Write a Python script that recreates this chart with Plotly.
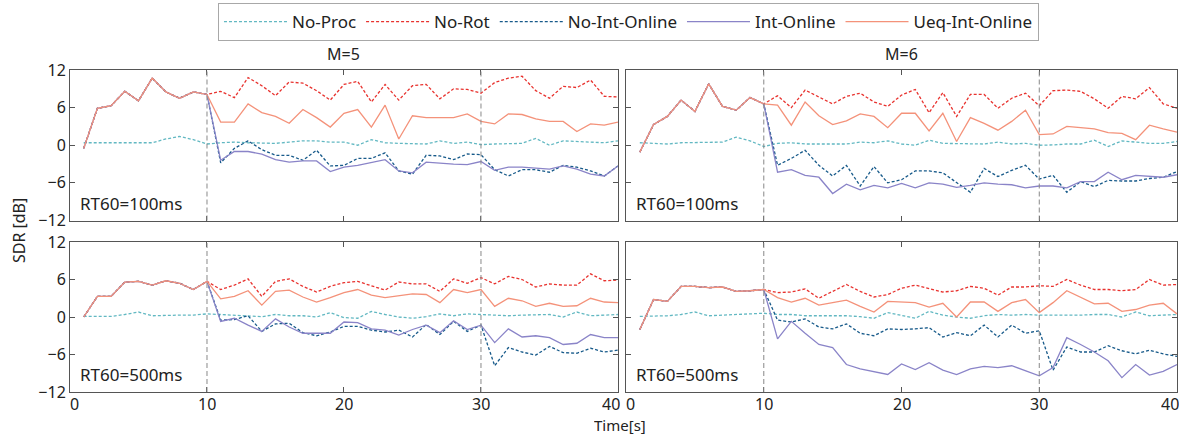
import plotly.graph_objects as go

t = list(range(1, 41))
series_names = ["No-Proc", "No-Rot", "No-Int-Online", "Int-Online", "Ueq-Int-Online"]
panel_titles = ["M=5", "M=6"]
rt_labels = ["RT60=100ms", "RT60=500ms"]
x_ticks = [0, 10, 20, 30, 40]
y_ticks = [-12, -6, 0, 6, 12]
switch_times = [10, 30]

# ---- M=5, RT60=100ms ----
m5_100_head = [-0.5, 5.9, 6.3, 8.6, 7.1, 10.7, 8.5, 7.5, 8.5, 8.1]
m5_100_noproc = [0.4, 0.4, 0.3, 0.4, 0.4, 0.4, 1.0, 1.4, 0.9, 0.2,
                 0.4, 0.5, 0.4, 0.4, 0.3, 0.5, 0.7, 0.7, 0.5, 0.5,
                 0.0, 0.9, 0.4, 0.3, 0.2, 0.2, 0.7, 0.3, 0.5, 0.1,
                 0.2, 0.3, 0.3, 1.1, 0.0, 0.7, 0.6, 0.4, 0.4, 0.7]
m5_100_norot = [8.6, 7.6, 10.8, 9.5, 7.9, 10.1, 9.9, 8.7, 7.2, 9.7,
                10.2, 6.9, 9.7, 7.2, 9.5, 9.7, 7.4, 9.0, 8.9, 8.3,
                10.0, 10.7, 11.0, 8.7, 7.5, 9.4, 9.2, 10.4, 7.8, 7.7]
m5_100_noint = [-2.8, -0.5, 0.7, -0.7, -1.6, -1.6, -2.4, -0.8, -3.3, -3.2,
                -2.1, -2.1, -1.2, -4.1, -4.6, -1.6, -1.7, -2.3, -1.4, -1.5,
                -3.9, -4.9, -3.9, -3.9, -4.3, -3.2, -3.5, -4.1, -4.9, -3.3]
m5_100_int = [-2.4, -1.0, -1.0, -1.4, -2.3, -2.7, -2.5, -2.5, -4.2, -3.5,
              -3.2, -2.8, -2.3, -4.1, -4.4, -2.7, -2.9, -3.0, -3.1, -2.6,
              -4.0, -3.5, -3.5, -3.7, -3.8, -3.3, -3.8, -4.6, -4.9, -3.3]
m5_100_ueq = [3.7, 3.7, 6.6, 5.2, 4.6, 3.5, 5.7, 4.4, 2.9, 5.1,
              5.7, 2.9, 6.4, 1.0, 4.7, 4.4, 4.4, 4.4, 5.0, 3.8,
              3.4, 5.0, 4.9, 4.2, 3.8, 3.8, 2.2, 3.4, 3.2, 3.7]

# ---- M=5, RT60=500ms ----
m5_500_head = [0.0, 3.3, 3.3, 5.6, 5.7, 5.1, 5.8, 5.4, 4.4, 5.7]
m5_500_noproc = [0.1, 0.05, 0.1, 0.4, 0.8, 0.2, 0.3, 0.3, 0.3, 0.5,
                 0.4, 0.3, 0.2, 0.05, 0.4, 0.2, 0.2, 0.0, 0.7, -0.1,
                 -0.2, 0.9, 0.4, 0.0, -0.2, 0.05, 0.5, 0.2, 0.5, 0.4,
                 0.3, 0.2, 0.3, 0.4, 0.4, 0.0, 0.8, 0.2, 0.3, 0.4]
m5_500_norot = [4.4, 5.1, 6.1, 3.3, 5.7, 6.1, 4.9, 4.0, 4.9, 5.5,
                5.7, 5.0, 4.3, 5.6, 5.3, 5.3, 4.1, 6.1, 5.4, 6.3,
                5.3, 6.5, 6.0, 4.8, 5.3, 5.1, 5.1, 6.9, 5.8, 5.9]
m5_500_noint = [-0.5, -0.4, 0.2, -2.3, -1.1, -1.0, -2.5, -3.0, -2.4, -1.5,
                -1.5, -2.1, -2.4, -2.1, -3.2, -1.2, -2.8, -0.7, -2.3, -1.3,
                -7.8, -4.9, -5.6, -6.1, -4.7, -5.7, -5.8, -5.0, -5.6, -5.3]
m5_500_int = [-0.7, -0.2, -1.3, -2.3, -0.3, -1.6, -2.6, -2.6, -2.6, -0.8,
              -0.9, -1.9, -2.1, -2.9, -2.0, -1.3, -2.5, -0.6, -2.0, -1.3,
              -4.1, -1.9, -3.2, -3.0, -3.3, -4.4, -4.2, -2.8, -3.3, -3.3]
m5_500_ueq = [2.9, 3.3, 4.2, 1.9, 4.1, 4.3, 3.2, 2.4, 3.1, 3.9,
              4.4, 3.5, 3.1, 3.4, 3.7, 3.6, 2.3, 4.4, 3.9, 4.4,
              1.7, 3.0, 2.6, 1.7, 2.2, 1.7, 1.8, 3.0, 2.4, 2.3]

# ---- M=6, RT60=100ms ----
m6_100_head = [-1.1, 3.3, 4.6, 7.2, 5.4, 9.8, 6.2, 5.6, 7.6, 6.6]
m6_100_noproc = [0.4, 0.3, 0.2, 0.4, 0.4, 0.4, 0.5, 1.3, 0.7, -0.2,
                 0.3, 0.4, 0.2, 0.2, 0.2, 0.2, 0.5, 0.4, 0.7, 0.2,
                 0.0, 0.8, 0.3, 0.3, 0.2, 0.2, 0.5, 0.2, 0.3, 0.0,
                 0.05, 0.2, 0.2, 0.8, -0.2, 0.7, 0.5, 0.3, 0.3, 0.6]
m6_100_norot = [7.9, 6.0, 8.8, 7.7, 6.6, 7.8, 8.3, 6.9, 6.2, 8.0,
                8.9, 5.2, 8.4, 4.6, 8.1, 8.1, 5.9, 7.5, 8.3, 6.3,
                8.7, 8.8, 8.6, 7.4, 5.9, 7.8, 7.4, 9.2, 6.6, 5.9]
m6_100_noint = [-3.2, -2.1, -0.8, -3.2, -4.9, -3.2, -6.5, -3.4, -6.0, -5.5,
                -4.1, -4.1, -4.4, -6.0, -7.5, -3.7, -5.0, -4.0, -3.2, -5.4,
                -4.8, -7.5, -5.8, -6.6, -5.6, -5.7, -5.7, -5.3, -5.1, -4.2]
m6_100_int = [-4.3, -3.9, -4.8, -5.1, -7.7, -6.2, -7.1, -6.4, -6.8, -6.1,
              -6.8, -6.0, -6.2, -6.7, -6.4, -6.0, -6.2, -6.3, -6.8, -6.5,
              -6.5, -6.8, -5.8, -5.8, -4.3, -5.5, -4.8, -5.0, -5.1, -4.7]
m6_100_ueq = [6.4, 3.2, 6.9, 4.7, 3.3, 3.9, 5.0, 4.6, 2.8, 5.1,
              5.1, 2.3, 5.1, 0.6, 4.4, 3.5, 2.4, 3.8, 5.6, 1.7,
              1.8, 3.0, 2.8, 2.6, 2.0, 1.9, 0.9, 3.2, 2.6, 2.1]

# ---- M=6, RT60=500ms ----
m6_500_head = [-2.0, 2.8, 2.5, 4.9, 4.9, 4.7, 4.8, 4.1, 4.2, 4.4]
m6_500_noproc = [0.1, 0.1, 0.2, 0.4, 0.8, 0.2, 0.3, 0.3, 0.4, 0.6,
                 0.4, 0.4, 0.2, 0.2, 0.3, 0.2, 0.05, -0.2, 0.7, 0.2,
                 -0.2, 0.9, 0.3, 0.0, -0.2, 0.2, 0.4, 0.3, 0.4, 0.3,
                 0.3, 0.2, 0.3, 0.4, 0.4, 0.0, 0.8, 0.2, 0.3, 0.4]
m6_500_norot = [3.9, 4.0, 4.5, 3.0, 4.1, 5.2, 4.1, 3.2, 3.6, 4.6,
                5.1, 4.6, 4.0, 4.2, 4.9, 4.6, 3.5, 4.8, 4.8, 5.0,
                4.9, 6.0, 5.1, 4.4, 4.4, 4.2, 4.4, 6.0, 5.1, 5.2]
m6_500_noint = [-0.5, -0.8, -0.3, -1.6, -1.9, -1.1, -2.6, -3.0, -1.9, -2.0,
                -1.9, -1.7, -3.2, -2.5, -3.0, -1.3, -3.2, -1.3, -2.6, -2.2,
                -8.5, -4.8, -5.6, -5.6, -4.6, -5.4, -5.9, -5.3, -5.9, -6.3]
m6_500_int = [-3.5, -0.7, -2.6, -4.4, -4.9, -7.6, -8.3, -8.7, -9.2, -7.5,
              -8.4, -7.3, -8.5, -9.2, -8.3, -7.9, -8.1, -7.8, -8.6, -9.4,
              -8.1, -3.3, -4.4, -5.6, -7.0, -9.7, -7.6, -9.3, -8.7, -7.6]
m6_500_ueq = [3.1, 2.4, 3.0, 1.9, 2.3, 2.7, 1.7, 0.8, 2.5, 2.4,
              2.3, 1.6, 2.2, 0.0, 2.4, 2.4, 0.9, 2.3, 2.8, 0.7,
              2.3, 4.2, 3.1, 2.1, 2.2, 0.9, 1.2, 1.9, 2.2, 0.5]

colors = ["#62b8c2", "#e8322e", "#175a8a", "#8a84c8", "#f4927a"]
dashes = ["3px,2px", "3px,2px", "3px,2px", "solid", "solid"]

panels = [
    (m5_100_head, m5_100_noproc, m5_100_norot, m5_100_noint, m5_100_int, m5_100_ueq, "x3", "y3"),
    (m6_100_head, m6_100_noproc, m6_100_norot, m6_100_noint, m6_100_int, m6_100_ueq, "x4", "y4"),
    (m5_500_head, m5_500_noproc, m5_500_norot, m5_500_noint, m5_500_int, m5_500_ueq, "x", "y"),
    (m6_500_head, m6_500_noproc, m6_500_norot, m6_500_noint, m6_500_int, m6_500_ueq, "x2", "y2"),
]

fig = go.Figure()
for pi, (head, noproc, norot, noint, intol, ueq, xa, ya) in enumerate(panels):
    ys = [noproc, head + norot, head + noint, head + intol, head + ueq]
    for si, y in enumerate(ys):
        fig.add_trace(go.Scatter(
            x=t, y=y, mode="lines", name=series_names[si],
            line=dict(color=colors[si], width=1.3, dash=dashes[si]),
            showlegend=(pi == 0), xaxis=xa, yaxis=ya,
        ))

font_family = "Noto Sans, Open Sans, sans-serif"
txt_color = "#222222"
axis_common = dict(
    showgrid=False, zeroline=False, showline=True, linecolor="#555555", linewidth=1,
    mirror="ticks", ticks="inside", ticklen=5, tickcolor="#555555",
    tickfont=dict(family=font_family, size=16, color=txt_color),
)
xdom_left = [0, 0.4950]
xdom_right = [0.5023, 1.0]
ydom_bottom = [0, 0.4658]
ydom_top = [0.5326, 1.0]

layout_axes = {}
for name, dom, anchor in [
    ("xaxis", xdom_left, "y"), ("xaxis2", xdom_right, "y2"),
    ("xaxis3", xdom_left, "y3"), ("xaxis4", xdom_right, "y4")]:
    layout_axes[name] = dict(axis_common, domain=dom, anchor=anchor, range=[0, 40],
                             tickvals=x_ticks, showticklabels=False)
for name, dom, anchor, showlab in [
    ("yaxis", ydom_bottom, "x", True), ("yaxis2", ydom_bottom, "x2", False),
    ("yaxis3", ydom_top, "x3", True), ("yaxis4", ydom_top, "x4", False)]:
    layout_axes[name] = dict(axis_common, domain=dom, anchor=anchor, range=[-12, 12],
                             tickvals=y_ticks, showticklabels=showlab)

shapes = []
for xa, ya in [("x", "y"), ("x2", "y2"), ("x3", "y3"), ("x4", "y4")]:
    for ts in switch_times:
        shapes.append(dict(type="line", xref=xa, yref=ya + " domain", x0=ts, x1=ts, y0=0, y1=1,
                           line=dict(color="#888888", width=1, dash="5px,3px")))

annotations = []
# x tick labels for the bottom panels (end labels nudged inward as in the reference)
for xa in ["x", "x2"]:
    for tv in x_ticks:
        shift = 4 if tv == x_ticks[0] else (-7 if tv == x_ticks[-1] else 0)
        annotations.append(dict(text=str(tv), xref=xa, yref="paper", x=tv, y=0,
                                xanchor="center", yanchor="top", yshift=-1, xshift=shift,
                                height=18, valign="middle", showarrow=False,
                                font=dict(family=font_family, size=16, color=txt_color)))
for xa, ya, lab in [("x3", "y3", rt_labels[0]), ("x4", "y4", rt_labels[0]),
                    ("x", "y", rt_labels[1]), ("x2", "y2", rt_labels[1])]:
    annotations.append(dict(text=lab, xref=xa + " domain", yref=ya + " domain", x=0.014, y=0.025,
                            xanchor="left", yanchor="bottom", showarrow=False,
                            font=dict(family=font_family, size=17, color=txt_color)))
for dom, title in [(xdom_left, panel_titles[0]), (xdom_right, panel_titles[1])]:
    annotations.append(dict(text=title, xref="paper", yref="paper", x=(dom[0] + dom[1]) / 2, y=1.0,
                            xanchor="center", yanchor="bottom", yshift=3, showarrow=False,
                            font=dict(family=font_family, size=16, color=txt_color)))
annotations.append(dict(text="SDR [dB]", xref="paper", yref="paper", x=-0.046, y=0.50,
                        xanchor="center", yanchor="middle", textangle=-90, showarrow=False,
                        font=dict(family=font_family, size=16, color=txt_color)))
annotations.append(dict(text="Time[s]", xref="paper", yref="paper", x=0.4968, y=-0.064,
                        xanchor="center", yanchor="top", height=19, valign="middle",
                        showarrow=False,
                        font=dict(family=font_family, size=15, color=txt_color)))

fig.update_layout(
    width=1179, height=434,
    margin=dict(l=70, r=2, t=70, b=42),
    paper_bgcolor="white", plot_bgcolor="white",
    shapes=shapes, annotations=annotations,
    legend=dict(orientation="h", x=0.5045, xanchor="center", y=1.208, yanchor="top",
                bordercolor="#a8a8a8", borderwidth=1, bgcolor="white",
                font=dict(family=font_family, size=17, color=txt_color),
                itemwidth=63, tracegroupgap=0),
    **layout_axes,
)

fig.write_html("out.html")
